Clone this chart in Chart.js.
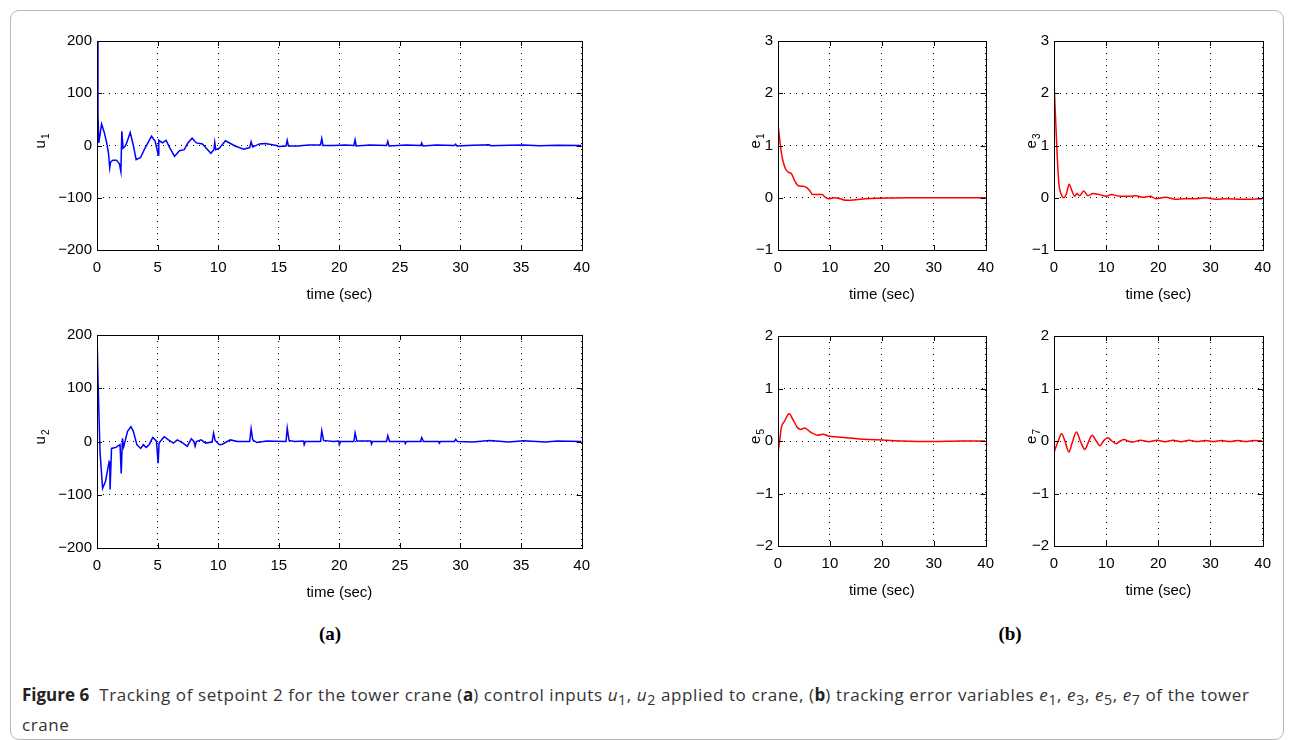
<!DOCTYPE html>
<html>
<head>
<meta charset="utf-8">
<script src="https://cdn.jsdelivr.net/npm/chart.js@4/dist/chart.umd.min.js"></script>
<style>
  html, body { margin: 0; padding: 0; background: #fff; }
  body { width: 1295px; height: 740px; position: relative; overflow: hidden; }
  .frame { position: absolute; left: 10px; top: 10px; width: 1274px; height: 730px; border: 1px solid #b9b9b9; border-radius: 9px; box-sizing: border-box; }
  canvas { position: absolute; }
  .sub-label { position: absolute; font-family: "Liberation Serif", serif; font-weight: bold; font-size: 19px; transform: translateX(-50%); }
  .caption { position: absolute; left: 22px; top: 682px; font-family: "Open Sans", sans-serif; font-size: 17px; letter-spacing: 0.6px; line-height: 25px; color: #333; white-space: nowrap; }
  .caption b { color: #222; letter-spacing: 0; }
</style>
</head>
<body>
<div class="frame"></div>
<canvas id="u1Chart"></canvas>
<canvas id="u2Chart"></canvas>
<canvas id="e1Chart"></canvas>
<canvas id="e3Chart"></canvas>
<canvas id="e5Chart"></canvas>
<canvas id="e7Chart"></canvas>
<div class="sub-label" style="left:330px; top:623px;">(a)</div>
<div class="sub-label" style="left:1010px; top:623px;">(b)</div>
<div class="caption"><b>Figure 6</b>&nbsp; Tracking of setpoint 2 for the tower crane (<b>a</b>) control inputs <i>u</i><sub>1</sub>, <i>u</i><sub>2</sub> applied to crane, (<b>b</b>) tracking error variables <i>e</i><sub>1</sub>, <i>e</i><sub>3</sub>, <i>e</i><sub>5</sub>, <i>e</i><sub>7</sub> of the tower<br>crane</div>
<script>
// values (time in sec)
const u1Time = [0, 0.08, 0.15, 0.38, 0.6, 0.8, 0.95, 1.05, 1.12, 1.3, 1.6, 1.85, 1.97, 2.05, 2.15, 2.3, 2.45, 2.74, 3.0, 3.23, 3.6, 3.9, 4.2, 4.5, 4.8, 5.0, 5.05, 5.1, 5.4, 5.7, 6.0, 6.4, 6.8, 7.2, 7.5, 7.85, 8.2, 8.7, 9.0, 9.4, 9.65, 9.72, 9.8, 10.1, 10.6, 11.4, 12.1, 12.6, 12.72, 12.85, 13.4, 13.9, 14.8, 15.0, 15.6, 15.7, 15.8, 16.5, 17.5, 18.45, 18.55, 18.65, 19.5, 20.5, 21.2, 21.3, 21.4, 22.5, 23.9, 24.0, 24.1, 25.5, 26.7, 26.8, 26.9, 28, 29.5, 29.6, 29.7, 31, 32.4, 32.5, 34, 35.2, 36.5, 38, 40];
const u1Values = [200, 60, 5, 41, 25, 5, -15, -43, -32, -28, -28, -35, -50, 27, -5, -2, 5, 25, 0, -27, -23, -8, 5, 18, 8, -12, -18, 10, 5, 10, -4, -21, -10, -8, 5, 14, 5, 3, -5, -15, -8, 6, -8, -5, 9, -1, -7, -4, 7, -3, 3, 4, 0, -2, -1, 10, -1, -1, 1, 1, 13, 0, 0, 1, 0, 11, -1, 1, 0, 8, -1, 1, 0, 5, -1, 1, 0, 2.5, -1, 0.5, 1.5, -0.5, 0.5, 1, -0.5, 0.5, 0];

const u2Time = [0, 0.1, 0.25, 0.46, 0.7, 1.0, 1.05, 1.08, 1.2, 1.56, 1.9, 2.0, 2.1, 2.2, 2.52, 2.8, 3.0, 3.29, 3.6, 3.83, 4.05, 4.3, 4.6, 4.9, 5.05, 5.12, 5.54, 5.9, 6.3, 6.63, 7.1, 7.45, 7.78, 8.0, 8.1, 8.2, 8.6, 8.96, 9.5, 9.62, 9.75, 10.1, 10.35, 11.0, 11.6, 12.6, 12.72, 12.85, 13.2, 14.0, 15.6, 15.7, 15.85, 16.3, 17.05, 17.1, 17.2, 18.45, 18.55, 18.7, 19.5, 19.95, 20.0, 20.1, 21.2, 21.3, 21.45, 22.6, 22.65, 22.75, 23.9, 24.0, 24.15, 25.4, 25.45, 25.55, 26.7, 26.8, 26.95, 28.2, 28.25, 28.35, 29.5, 29.6, 29.75, 31, 32.4, 34, 35.2, 37, 38, 40];
const u2Values = [200, 100, -20, -88, -75, -38, -40, -90, -13, -11, -6, -60, 6, -10, 19, 28, 19, -6, -13, -6, -11, -6, 7.5, 1, -41, -3, 9, 3, -3, 3, -3, -9, 5, 0, -9, 0, 3, -3, -1, 16, 2, -6, -5, 3, 0, 0, 24, 3, -2, 1, 0, 25, 2, 0, 1, -6, 0, 0, 20, 2, 0, 1, -6, 0, 0, 16, 1, 1, -5, 0, 0, 11, 0, 0, -4, 0, 0, 7.5, 0, 0, -3, 0, 0, 4, 0, -1, 2, -1, 1.5, -1, 1, 0];

const e1Time = [0, 0.7, 1.33, 1.97, 2.6, 3.2, 3.9, 4.8, 5.45, 6.1, 6.7, 7.7, 8.5, 9.1, 9.8, 10.9, 12, 13.1, 15, 16.9, 20.1, 25, 30, 35, 40];
const e1Values = [1.4, 0.83, 0.58, 0.49, 0.46, 0.33, 0.23, 0.22, 0.2, 0.14, 0.06, 0.06, 0.06, 0.01, -0.02, 0, -0.02, -0.05, -0.04, -0.02, -0.01, 0, 0, 0, 0];

const e3Time = [0, 0.3, 0.63, 0.94, 1.33, 1.9, 2.4, 2.9, 3.4, 4.0, 4.4, 4.9, 5.7, 6.5, 7.5, 8.7, 10.0, 11.0, 12.5, 14.4, 15.7, 17, 18.5, 19.5, 21.4, 23.3, 25, 27, 29, 31, 33, 36, 40];
const e3Values = [2.21, 1.52, 0.77, 0.26, 0.08, 0, 0.08, 0.26, 0.14, 0.03, 0.08, 0.04, 0.13, 0.04, 0.08, 0.06, 0.03, 0.06, 0.03, 0.03, 0.04, 0.01, 0.03, -0.02, 0.01, -0.03, -0.02, -0.02, 0, -0.03, -0.02, -0.03, -0.02];

const e5Time = [0, 0.32, 0.63, 1.27, 1.9, 2.2, 2.85, 3.8, 4.4, 5.1, 6.4, 7.6, 8.6, 9.9, 11.1, 13.1, 15.6, 17.5, 20.1, 23.9, 30, 35, 40];
const e5Values = [-0.22, 0, 0.25, 0.38, 0.5, 0.52, 0.41, 0.25, 0.22, 0.25, 0.16, 0.11, 0.13, 0.09, 0.08, 0.06, 0.04, 0.03, 0.02, 0, -0.01, 0, 0];

const e7Time = [0, 0.8, 1.45, 2.1, 2.85, 3.5, 4.3, 5.05, 5.9, 6.6, 7.3, 8.1, 8.8, 9.5, 10.3, 11.1, 11.9, 12.7, 13.5, 14.2, 15.0, 16.6, 18.2, 19.7, 21.3, 22.8, 24.4, 25.9, 27.5, 29.0, 30.6, 32.1, 33.7, 35.2, 36.8, 38.3, 40];
const e7Values = [-0.22, 0, 0.14, 0, -0.21, -0.03, 0.17, 0, -0.16, -0.02, 0.11, 0, -0.09, 0, 0.06, 0, -0.05, 0, 0.03, 0, -0.02, 0.015, -0.015, 0.015, -0.012, 0.012, -0.012, 0.012, -0.01, 0.01, -0.01, 0.01, -0.01, 0.01, -0.01, 0.01, 0];

const AXIS_FONT = { family: 'Liberation Sans, Arial, sans-serif', size: 15 };
const Y_SPACE = 70, X_SPACE = 60, PAD_TOP = 12, PAD_RIGHT = 15;

function fmt(v) {
    return v < 0 ? '\u2212' + Math.abs(v) : String(v);
}

const boxPlugin = {
    id: 'matlabBox',
    afterDraw(chart, args, opts) {
        const { ctx, chartArea: a, scales } = chart;
        ctx.save();
        ctx.strokeStyle = '#000';
        ctx.lineWidth = 1;
        ctx.beginPath();
        scales.x.ticks.forEach(t => {
            const px = Math.round(scales.x.getPixelForValue(t.value)) + 0.5;
            ctx.moveTo(px, a.bottom); ctx.lineTo(px, a.bottom - 5);
            ctx.moveTo(px, a.top); ctx.lineTo(px, a.top + 5);
        });
        scales.y.ticks.forEach(t => {
            const py = Math.round(scales.y.getPixelForValue(t.value)) + 0.5;
            ctx.moveTo(a.left, py); ctx.lineTo(a.left + 5, py);
            ctx.moveTo(a.right, py); ctx.lineTo(a.right - 5, py);
        });
        ctx.stroke();
        ctx.strokeRect(Math.round(a.left) + 0.5, Math.round(a.top) + 0.5, Math.round(a.right - a.left), Math.round(a.bottom - a.top));

        // y label with subscript
        const cy = (a.top + a.bottom) / 2 - 4;
        ctx.translate(a.left + opts.labelOffset, cy);
        ctx.rotate(-Math.PI / 2);
        ctx.fillStyle = '#000';
        ctx.textBaseline = 'alphabetic';
        ctx.font = '15px "Liberation Sans", Arial, sans-serif';
        const mw = ctx.measureText(opts.main).width;
        ctx.font = '10px "Liberation Sans", Arial, sans-serif';
        const sw = ctx.measureText(opts.sub).width;
        const x0 = -(mw + sw) / 2;
        ctx.font = '15px "Liberation Sans", Arial, sans-serif';
        ctx.fillText(opts.main, x0, 0);
        ctx.font = '10px "Liberation Sans", Arial, sans-serif';
        ctx.fillText(opts.sub, x0 + mw + 1, 4);
        ctx.restore();
    }
};

function createPanel(canvasId, rect, times, values, color, yMin, yMax, xStep, label, sub, labelOffset, smooth) {
    const canvas = document.getElementById(canvasId);
    const w = rect.right - rect.left + Y_SPACE + PAD_RIGHT;
    const h = rect.bottom - rect.top + PAD_TOP + X_SPACE;
    canvas.width = w;
    canvas.height = h;
    canvas.style.left = (rect.left - Y_SPACE) + 'px';
    canvas.style.top = (rect.top - PAD_TOP) + 'px';
    canvas.style.width = w + 'px';
    canvas.style.height = h + 'px';

    const points = times.map((t, i) => ({ x: t, y: values[i] }));

    new Chart(canvas.getContext('2d'), {
        type: 'line',
        data: {
            datasets: [{
                data: points,
                borderColor: color,
                borderWidth: 1.5,
                pointRadius: 0,
                fill: false,
                tension: smooth ? 0.4 : 0,
                cubicInterpolationMode: smooth ? 'monotone' : 'default'
            }]
        },
        options: {
            responsive: false,
            animation: false,
            devicePixelRatio: 1,
            layout: { autoPadding: false, padding: { top: PAD_TOP, right: PAD_RIGHT, left: 0, bottom: 0 } },
            plugins: {
                legend: { display: false },
                tooltip: { enabled: false },
                matlabBox: { main: label, sub: sub, labelOffset: labelOffset }
            },
            scales: {
                x: {
                    type: 'linear',
                    min: 0,
                    max: 40,
                    ticks: { stepSize: xStep, color: '#000', font: AXIS_FONT, padding: 9, maxRotation: 0, autoSkip: false },
                    grid: { color: '#000', lineWidth: 1, drawTicks: false },
                    border: { display: false, dash: [1, 5] },
                    title: { display: true, text: 'time (sec)', color: '#000', font: AXIS_FONT, padding: { top: 0, bottom: 6 } },
                    afterFit: s => { s.height = X_SPACE; }
                },
                y: {
                    type: 'linear',
                    min: yMin,
                    max: yMax,
                    ticks: { stepSize: (yMax - yMin) / 4, color: '#000', font: AXIS_FONT, padding: 5, callback: v => fmt(v) },
                    grid: { color: '#000', lineWidth: 1, drawTicks: false },
                    border: { display: false, dash: [1, 5] },
                    afterFit: s => { s.width = Y_SPACE; }
                }
            }
        },
        plugins: [boxPlugin]
    });
}

createPanel('u1Chart', { left: 97, top: 39, right: 584, bottom: 250 }, u1Time, u1Values, '#0000ff', -200, 200, 5, 'u', '1', -52, false);
createPanel('u2Chart', { left: 97, top: 333, right: 584, bottom: 548 }, u2Time, u2Values, '#0000ff', -200, 200, 5, 'u', '2', -52, false);
createPanel('e1Chart', { left: 778, top: 39, right: 988, bottom: 250 }, e1Time, e1Values, '#ff0000', -1, 3, 10, 'e', '1', -18, true);
createPanel('e3Chart', { left: 1054, top: 39, right: 1265, bottom: 250 }, e3Time, e3Values, '#ff0000', -1, 3, 10, 'e', '3', -18, true);
createPanel('e5Chart', { left: 778, top: 334, right: 988, bottom: 546 }, e5Time, e5Values, '#ff0000', -2, 2, 10, 'e', '5', -18, true);
createPanel('e7Chart', { left: 1054, top: 334, right: 1265, bottom: 546 }, e7Time, e7Values, '#ff0000', -2, 2, 10, 'e', '7', -18, true);
</script>
</body>
</html>
